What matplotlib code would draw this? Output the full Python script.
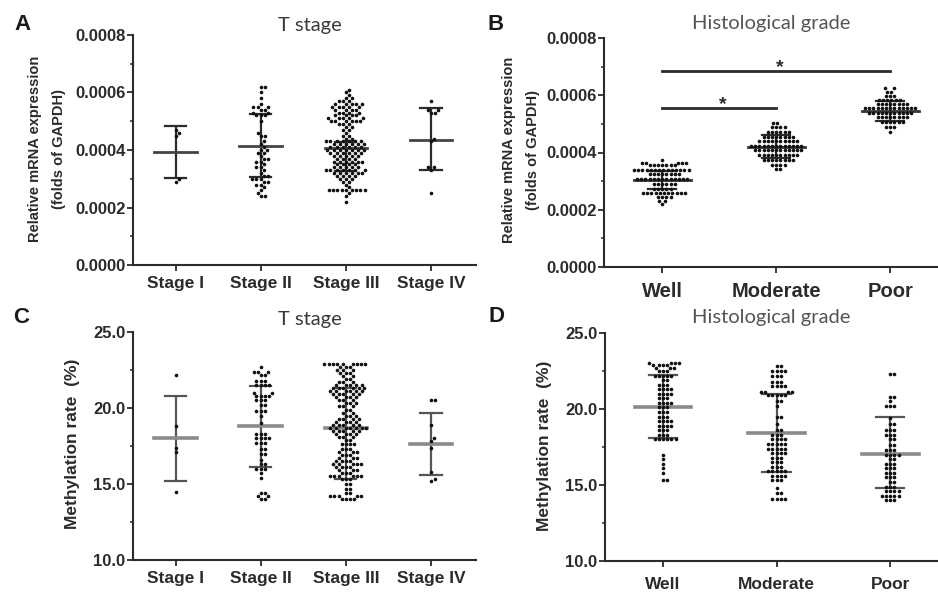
import numpy as np
import matplotlib.pyplot as plt

stages = ['Stage I', 'Stage II', 'Stage III', 'Stage IV']
grades = ['Well', 'Moderate', 'Poor']

# A: relative mRNA expression by T stage (values in units of 1e-4)
mrna_stage_I = [4.7, 4.6, 4.5, 3.0, 2.9]
mrna_stage_II = [6.2, 6.2, 6.0, 5.8, 5.6, 5.5, 5.5, 5.5, 5.4, 5.4, 5.3, 5.3, 5.2, 5.2, 5.2,
                 5.0, 4.6, 4.5, 4.5, 4.3, 4.2, 4.1, 4.0, 4.0, 3.9, 3.9, 3.8, 3.7, 3.7, 3.6,
                 3.6, 3.5, 3.4, 3.4, 3.3, 3.2, 3.1, 3.1, 3.0, 3.0, 3.0, 2.9, 2.9, 2.8, 2.8,
                 2.7, 2.6, 2.5, 2.4, 2.4]
mrna_stage_III = [6.1, 6.0, 5.9, 5.8, 5.8, 5.7, 5.7, 5.7,
                  5.6, 5.6, 5.6, 5.6, 5.6, 5.5, 5.5, 5.5, 5.5, 5.5, 5.4, 5.4, 5.4, 5.4,
                  5.3, 5.3, 5.3, 5.3, 5.2, 5.2, 5.2, 5.2, 5.1, 5.1, 5.1, 5.1, 5.1,
                  5.0, 5.0, 5.0, 5.0, 5.0, 5.0, 4.9, 4.9, 4.9, 4.8, 4.8, 4.7, 4.7, 4.6, 4.5, 4.5,
                  4.4, 4.4, 4.3, 4.3, 4.3, 4.3, 4.3, 4.3, 4.3, 4.2, 4.2, 4.2, 4.2, 4.2, 4.2,
                  4.1, 4.1, 4.1, 4.1, 4.1, 4.1, 4.0, 4.0, 4.0, 4.0, 4.0, 4.0, 4.0,
                  3.9, 3.9, 3.9, 3.9, 3.9, 3.9, 3.8, 3.8, 3.8, 3.8, 3.8, 3.7, 3.7, 3.7, 3.7,
                  3.6, 3.6, 3.6, 3.6, 3.6, 3.6, 3.5, 3.5, 3.5, 3.5, 3.4, 3.4, 3.4, 3.4, 3.4,
                  3.3, 3.3, 3.3, 3.3, 3.3, 3.3, 3.3, 3.2, 3.2, 3.2, 3.2, 3.2, 3.2,
                  3.1, 3.1, 3.1, 3.1, 3.0, 3.0, 3.0, 2.9, 2.9, 2.8, 2.7,
                  2.6, 2.6, 2.6, 2.6, 2.6, 2.6, 2.6, 2.6, 2.6, 2.5, 2.4, 2.2]
mrna_stage_IV = [5.7, 5.4, 5.4, 5.3, 5.3, 4.4, 4.3, 3.4, 3.4, 3.3, 2.5]
mrna_stage_mean = [3.93, 4.15, 4.08, 4.35]
mrna_stage_upper = [4.82, 5.25, 4.27, 5.45]
mrna_stage_lower = [3.03, 3.05, 3.27, 3.30]

# B: relative mRNA expression by histological grade (units of 1e-4)
mrna_well = [3.74,
             3.64, 3.64, 3.64, 3.64, 3.64,
             3.55, 3.55, 3.55, 3.55, 3.55, 3.55, 3.55,
             3.39, 3.39, 3.39, 3.39, 3.39, 3.39, 3.39, 3.39, 3.39, 3.39, 3.39, 3.39, 3.39, 3.39,
             3.25, 3.25, 3.25, 3.25, 3.25, 3.25, 3.25, 3.25,
             3.07, 3.07, 3.07, 3.07, 3.07, 3.07, 3.07, 3.07, 3.07, 3.07, 3.07, 3.07, 3.07,
             2.90, 2.90, 2.90, 2.90, 2.90, 2.90,
             2.72, 2.72, 2.72, 2.72, 2.72,
             2.58, 2.58, 2.58, 2.58, 2.58, 2.58, 2.58, 2.58, 2.58, 2.58, 2.58,
             2.45, 2.45, 2.45, 2.45,
             2.30, 2.30, 2.20]
mrna_moderate = [5.04, 5.04,
                 4.90, 4.90, 4.90, 4.90,
                 4.73, 4.73, 4.73, 4.73, 4.73, 4.73,
                 4.55, 4.55, 4.55, 4.55, 4.55, 4.55, 4.55, 4.55,
                 4.40, 4.40, 4.40, 4.40, 4.40, 4.40, 4.40, 4.40, 4.40, 4.40,
                 4.24, 4.24, 4.24, 4.24, 4.24, 4.24, 4.24, 4.24, 4.24, 4.24, 4.24, 4.24, 4.24,
                 4.09, 4.09, 4.09, 4.09, 4.09, 4.09, 4.09, 4.09, 4.09, 4.09, 4.09, 4.09,
                 3.91, 3.91, 3.91, 3.91, 3.91, 3.91, 3.91, 3.91, 3.91, 3.91,
                 3.74, 3.74, 3.74, 3.74, 3.74, 3.74, 3.74, 3.74,
                 3.56, 3.56, 3.56, 3.56,
                 3.41, 3.41]
mrna_poor = [6.24, 6.24,
             6.12, 6.12,
             5.98, 5.98, 5.98,
             5.83, 5.83, 5.83, 5.83, 5.83, 5.83,
             5.69, 5.69, 5.69, 5.69, 5.69, 5.69, 5.69, 5.69,
             5.54, 5.54, 5.54, 5.54, 5.54, 5.54, 5.54, 5.54, 5.54, 5.54, 5.54, 5.54, 5.54,
             5.39, 5.39, 5.39, 5.39, 5.39, 5.39, 5.39, 5.39, 5.39, 5.39, 5.39,
             5.23, 5.23, 5.23, 5.23, 5.23, 5.23, 5.23, 5.23,
             5.08, 5.08, 5.08, 5.08, 5.08, 5.08,
             4.90, 4.90, 4.90,
             4.73]
mrna_grade_mean = [3.05, 4.20, 5.45]
mrna_grade_upper = [3.35, 4.60, 5.80]
mrna_grade_lower = [2.72, 3.80, 5.10]

# C: methylation rate (%) by T stage
meth_stage_I = [22.2, 18.8, 17.4, 17.1, 14.5]
meth_stage_II = [22.7, 22.4, 22.4, 22.4, 22.2, 22.2, 21.8, 21.8, 21.8, 21.5, 21.5, 21.5, 21.5,
                 21.0, 21.0, 20.8, 20.8, 20.8, 20.8, 20.5, 20.5, 20.5, 20.2, 20.2, 19.8, 19.8,
                 19.8, 19.5, 19.0, 18.3, 18.3, 18.3, 18.0, 18.0, 18.0, 18.0, 17.7, 17.7, 17.7,
                 17.3, 17.3, 17.0, 17.0, 16.6, 16.3, 16.3, 16.0, 16.0, 16.0, 15.7, 15.4,
                 14.4, 14.4, 14.2, 14.2, 14.0, 14.0]
meth_stage_III = [22.9, 22.9, 22.9, 22.9, 22.9, 22.9, 22.9, 22.9, 22.9, 22.7, 22.7, 22.7,
                  22.5, 22.5, 22.5, 22.3, 22.3, 22.3, 22.1, 22.1, 21.9, 21.9, 21.7, 21.7, 21.7,
                  21.5, 21.5, 21.5, 21.5, 21.5, 21.3, 21.3, 21.3, 21.3, 21.3, 21.3,
                  21.1, 21.1, 21.1, 21.1, 21.1, 21.1, 20.9, 20.9, 20.9, 20.9, 20.9,
                  20.7, 20.7, 20.7, 20.7, 20.5, 20.5, 20.5, 20.3, 20.3, 20.3, 20.1, 20.1, 20.1,
                  19.9, 19.9, 19.7, 19.7, 19.5, 19.5, 19.5, 19.3, 19.3, 19.3, 19.3,
                  19.1, 19.1, 19.1, 19.1, 18.9, 18.9, 18.9, 18.9, 18.9,
                  18.7, 18.7, 18.7, 18.7, 18.7, 18.7, 18.7, 18.5, 18.5, 18.5, 18.5, 18.5,
                  18.3, 18.3, 18.3, 18.3, 18.1, 18.1, 18.1, 17.9, 17.9,
                  17.6, 17.6, 17.6, 17.6, 17.3, 17.3, 17.3, 17.1, 17.1, 17.1,
                  16.9, 16.9, 16.9, 16.7, 16.7, 16.7, 16.5, 16.5, 16.5, 16.5,
                  16.3, 16.3, 16.3, 16.3, 16.3, 16.1, 16.1, 16.1, 16.1, 15.9, 15.9, 15.9,
                  15.7, 15.7, 15.7, 15.5, 15.5, 15.5, 15.5, 15.5, 15.5, 15.3, 15.3, 15.3,
                  15.0, 15.0, 14.7, 14.7, 14.4, 14.4, 14.2, 14.2, 14.2, 14.2, 14.2,
                  14.0, 14.0, 14.0, 14.0]
meth_stage_IV = [20.5, 20.5, 18.9, 18.0, 17.8, 17.4, 15.8, 15.3, 15.2]
meth_stage_mean = [18.0, 18.8, 18.66, 17.6]
meth_stage_upper = [20.8, 21.45, 21.33, 19.7]
meth_stage_lower = [15.2, 16.1, 15.35, 15.6]

# D: methylation rate (%) by histological grade
meth_well = [23.0, 23.0, 23.0, 23.0, 22.9, 22.9, 22.9, 22.9, 22.7, 22.7, 22.7,
             22.5, 22.5, 22.5, 22.2, 22.2, 22.2, 22.2, 22.2, 21.9, 21.9, 21.6, 21.6, 21.6,
             21.3, 21.3, 21.3, 21.3, 21.0, 21.0, 21.0, 21.0, 20.7, 20.7, 20.7,
             20.4, 20.4, 20.4, 20.4, 20.1, 20.1, 20.1, 19.8, 19.8, 19.8, 19.5, 19.5, 19.5,
             19.2, 19.2, 19.2, 19.2, 18.9, 18.9, 18.9, 18.9, 18.6, 18.6, 18.6,
             18.3, 18.3, 18.3, 18.0, 18.0, 18.0, 18.0, 18.0, 18.0,
             17.0, 16.7, 16.4, 16.1, 15.8, 15.3, 15.3]
meth_moderate = [22.8, 22.8, 22.5, 22.5, 22.5, 22.5, 22.2, 22.2, 22.2, 21.8, 21.8, 21.8,
                 21.5, 21.5, 21.5, 21.5, 21.1, 21.1, 21.1, 21.1, 20.9, 20.9, 20.9, 20.9, 20.9,
                 20.5, 20.5, 20.2, 19.5, 19.5, 19.0, 18.6, 18.6, 18.3, 18.3, 18.3,
                 18.0, 18.0, 18.0, 18.0, 17.7, 17.7, 17.7, 17.7, 17.7, 17.4, 17.4, 17.4, 17.4, 17.4,
                 17.1, 17.1, 17.1, 17.1, 16.8, 16.8, 16.8, 16.5, 16.5, 16.5, 16.2, 16.2, 16.2,
                 15.9, 15.9, 15.9, 15.9, 15.9, 15.6, 15.6, 15.6, 15.6, 15.3, 15.3, 15.3,
                 14.8, 14.5, 14.5, 14.1, 14.1, 14.1, 14.1]
meth_poor = [22.3, 22.3, 20.8, 20.8, 20.5, 20.2, 20.2, 20.2, 19.4, 19.0, 19.0,
             18.6, 18.6, 18.6, 18.3, 18.3, 18.3, 18.0, 18.0, 17.6, 17.6, 17.3, 17.3, 17.3,
             17.0, 17.0, 17.0, 17.0, 16.7, 16.7, 16.4, 16.4, 16.4, 16.1, 16.1, 16.1,
             15.8, 15.8, 15.8, 15.5, 15.5, 15.5, 15.2, 15.2, 14.9, 14.9, 14.9,
             14.6, 14.6, 14.6, 14.6, 14.3, 14.3, 14.3, 14.3, 14.3, 14.0, 14.0, 14.0]
meth_grade_mean = [20.15, 18.4, 17.04]
meth_grade_upper = [22.24, 21.0, 19.45]
meth_grade_lower = [18.09, 15.86, 14.8]

W, H = 938, 592
tick_font = 'Liberation Sans'
dark = '#2b2b2b'
DOT = 4.2  # dot spacing in pixels for the swarm


def px_axes(fig, left, top, right, bottom):
    return fig.add_axes([left / W, 1 - bottom / H, (right - left) / W, (bottom - top) / H])


def style_axes(ax):
    for s in ['top', 'right']:
        ax.spines[s].set_visible(False)
    for s in ['left', 'bottom']:
        ax.spines[s].set_linewidth(1.5)
        ax.spines[s].set_color(dark)
    ax.tick_params(axis='y', which='major', length=4, width=1.3, color=dark, pad=1.5)
    ax.tick_params(axis='y', which='minor', length=2.5, width=1.1, color=dark)
    ax.tick_params(axis='x', length=4, width=1.3, color=dark)


def swarm(ax, values):
    # simple beeswarm in pixel space, returns x offsets in data units
    bb = ax.get_position()
    h_px = bb.height * H
    w_px = bb.width * W
    y0, y1 = ax.get_ylim()
    x0, x1 = ax.get_xlim()
    ypx = (np.asarray(values) - y0) / (y1 - y0) * h_px
    out = np.zeros(len(ypx))
    placed = []
    for i in np.argsort(ypx, kind='stable'):
        y = ypx[i]
        near = [(px, py) for px, py in placed if abs(py - y) < DOT]
        cands = [0.0]
        for px, py in near:
            d = np.sqrt(DOT ** 2 - (py - y) ** 2)
            cands += [px + d, px - d]
        cands.sort(key=lambda c: (round(abs(c), 6), -c))
        for c in cands:
            if all((c - px) ** 2 + (y - py) ** 2 >= DOT ** 2 - 1e-6 for px, py in near):
                break
        placed.append((c, y))
        out[i] = c
    return out * (x1 - x0) / w_px


def draw_group(ax, xc, values, mean, upper, lower, bar_color, mean_color, mean_lw):
    values = np.asarray(values, dtype=float)
    xs = xc + swarm(ax, values)
    ax.plot([xc, xc], [lower, upper], color=bar_color, lw=1.6, zorder=2, solid_capstyle='butt')
    for y in (lower, upper):
        ax.plot([xc - 0.125, xc + 0.125], [y, y], color=bar_color, lw=1.6, zorder=2)
    ax.plot([xc - 0.25, xc + 0.25], [mean, mean], color=mean_color, lw=mean_lw, zorder=2)
    ax.plot(xs, values, 'o', ms=2.6, color='#111111', mec='none', zorder=3)


fig = plt.figure(figsize=(W / 100, H / 100), dpi=100)

axA = px_axes(fig, 133, 35, 476, 265)
axB = px_axes(fig, 604, 38, 938, 267)
axC = px_axes(fig, 133, 332, 476, 560)
axD = px_axes(fig, 605, 333, 938, 561)

for ax in (axA, axC):
    ax.set_xlim(-0.5, 3.53)
for ax in (axB, axD):
    ax.set_xlim(-0.51, 2.42)
for ax in (axA, axB):
    ax.set_ylim(0, 0.0008)
    ax.set_yticks(np.arange(0, 0.00081, 0.0002))
    ax.set_yticks(np.arange(0, 0.00081, 0.0001), minor=True)
    ax.set_yticklabels(['%.4f' % v for v in np.arange(0, 0.00081, 0.0002)])
for ax in (axC, axD):
    ax.set_ylim(10, 25)
    ax.set_yticks([10, 15, 20, 25])
    ax.set_yticks(np.arange(10, 25.1, 2.5), minor=True)
    ax.set_yticklabels(['%.1f' % v for v in [10, 15, 20, 25]])

# panel A
mrna_stage_groups = [mrna_stage_I, mrna_stage_II, mrna_stage_III, mrna_stage_IV]
for i, vals in enumerate(mrna_stage_groups):
    draw_group(axA, i, np.array(vals) * 1e-4, mrna_stage_mean[i] * 1e-4,
               mrna_stage_upper[i] * 1e-4, mrna_stage_lower[i] * 1e-4,
               dark, '#444444', 2.0)
axA.set_xticks(range(4))
axA.set_xticklabels(stages)

# panel B
mrna_grade_groups = [mrna_well, mrna_moderate, mrna_poor]
for i, vals in enumerate(mrna_grade_groups):
    draw_group(axB, i, np.array(vals) * 1e-4, mrna_grade_mean[i] * 1e-4,
               mrna_grade_upper[i] * 1e-4, mrna_grade_lower[i] * 1e-4,
               dark, '#333333', 2.0)
axB.set_xticks(range(3))
axB.set_xticklabels(grades)
# significance brackets
for x0, x1, y in [(0, 1, 0.000555), (0, 2, 0.000685)]:
    axB.plot([x0, x1], [y, y], color=dark, lw=2.0)
    axB.annotate('*', xy=((x0 + x1) / 2 + 0.03, y), xytext=(0, -1), textcoords='offset points',
                 ha='center', va='baseline', fontsize=14, fontweight='bold',
                 family=tick_font, color=dark)

# panel C
meth_stage_groups = [meth_stage_I, meth_stage_II, meth_stage_III, meth_stage_IV]
for i, vals in enumerate(meth_stage_groups):
    draw_group(axC, i, vals, meth_stage_mean[i], meth_stage_upper[i], meth_stage_lower[i],
               '#555555', '#8a8a8a', 2.6)
axC.set_xticks(range(4))
axC.set_xticklabels(stages)

# panel D
meth_grade_groups = [meth_well, meth_moderate, meth_poor]
for i, vals in enumerate(meth_grade_groups):
    draw_group(axD, i, vals, meth_grade_mean[i], meth_grade_upper[i], meth_grade_lower[i],
               '#555555', '#8a8a8a', 2.6)
axD.set_xticks(range(3))
axD.set_xticklabels(grades)

for ax in (axA, axB, axC, axD):
    style_axes(ax)
    for lab in ax.get_yticklabels():
        lab.set_family(tick_font)
        lab.set_fontweight('bold')
        lab.set_fontsize(12)
        lab.set_color(dark)
    for lab in ax.get_xticklabels():
        lab.set_family(tick_font)
        lab.set_fontweight('bold')
        lab.set_color(dark)

for lab in axA.get_xticklabels() + axC.get_xticklabels():
    lab.set_fontsize(12.5)
for lab in axB.get_xticklabels():
    lab.set_fontsize(14.5)
for lab in axD.get_xticklabels():
    lab.set_fontsize(12.5)
axA.tick_params(axis='x', pad=4)
axC.tick_params(axis='x', pad=4)
axB.tick_params(axis='x', pad=7)
axD.tick_params(axis='x', pad=7.5)


def ftext(x, y, s, **kw):
    fig.text(x / W, 1 - y / H, s, **kw)


# axis titles and panel letters
ftext(310, 25, 'T stage', ha='center', va='center', fontsize=14.5, family='Lato', color='#3a3a3a')
ftext(310, 319, 'T stage', ha='center', va='center', fontsize=14.5, family='Lato', color='#3a3a3a')
ftext(771, 23, 'Histological grade', ha='center', va='center', fontsize=14.5, family='Lato', color='#555555')
ftext(771, 318, 'Histological grade', ha='center', va='center', fontsize=14.5, family='Lato', color='#555555')

for letter, x, y in [('A', 22.5, 25), ('B', 496, 24.5), ('C', 21.5, 317.5), ('D', 496, 316)]:
    ftext(x, y, letter, ha='center', va='center', fontsize=16, fontweight='bold',
          family=tick_font, color='#1a1a1a')

ylab_mrna = 'Relative mRNA expression\n(folds of GAPDH)'
ftext(47, 149, ylab_mrna, ha='center', va='center', rotation=90, fontsize=10.5,
      fontweight='bold', family=tick_font, color=dark, linespacing=1.9)
ftext(521, 150, ylab_mrna, ha='center', va='center', rotation=90, fontsize=10.5,
      fontweight='bold', family=tick_font, color=dark, linespacing=1.9)
ftext(72, 444, 'Methylation rate  (%)', ha='center', va='center', rotation=90, fontsize=12.5,
      fontweight='bold', family=tick_font, color=dark)
ftext(544, 446, 'Methylation rate  (%)', ha='center', va='center', rotation=90, fontsize=12.5,
      fontweight='bold', family=tick_font, color=dark)

fig.savefig('out.png', dpi=100)
